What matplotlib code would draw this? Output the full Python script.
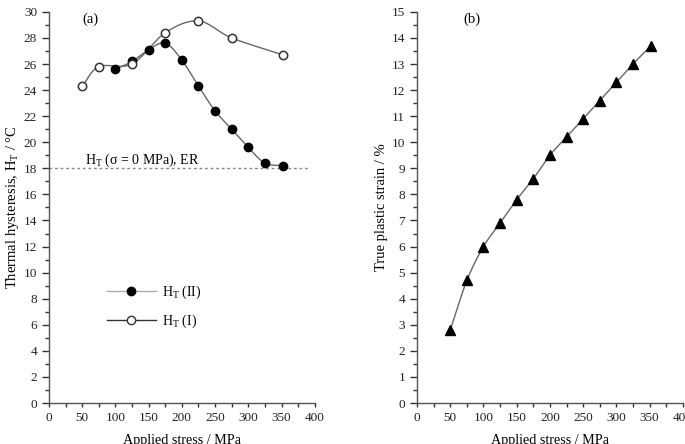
import numpy as np
import matplotlib
matplotlib.use('Agg')
import matplotlib.pyplot as plt

plt.rcParams['font.family'] = ['Liberation Serif', 'DejaVu Serif']
plt.rcParams['mathtext.fontset'] = 'custom'
plt.rcParams['mathtext.rm'] = 'Liberation Serif'
plt.rcParams['mathtext.it'] = 'Liberation Serif:italic'

# data
stress_I = [50, 75, 125, 175, 225, 275, 352]
ht_I = [24.3, 25.8, 26.0, 28.4, 29.3, 28.0, 26.7]

stress_II = [100, 125, 150, 175, 200, 225, 250, 275, 300, 325, 352]
ht_II = [25.6, 26.2, 27.1, 27.6, 26.3, 24.3, 22.4, 21.0, 19.6, 18.4, 18.2]

stress_b = [50, 75, 100, 125, 150, 175, 200, 225, 250, 275, 300, 325, 352]
strain_b = [2.8, 4.7, 6.0, 6.9, 7.8, 8.6, 9.5, 10.2, 10.9, 11.6, 12.3, 13.0, 13.7]

ht_zero = 18.0


# smooth line through the points (catmull-rom), just for the drawn curve
def smooth(x, y, n=30):
    x = np.asarray(x, float)
    y = np.asarray(y, float)
    px = np.concatenate([[2 * x[0] - x[1]], x, [2 * x[-1] - x[-2]]])
    py = np.concatenate([[2 * y[0] - y[1]], y, [2 * y[-1] - y[-2]]])
    xs, ys = [], []
    t = np.linspace(0, 1, n)
    for i in range(1, len(px) - 2):
        for p, out in ((px, xs), (py, ys)):
            p0, p1, p2, p3 = p[i - 1], p[i], p[i + 1], p[i + 2]
            out.append(0.5 * (2 * p1 + (-p0 + p2) * t
                              + (2 * p0 - 5 * p1 + 4 * p2 - p3) * t ** 2
                              + (-p0 + 3 * p1 - 3 * p2 + p3) * t ** 3))
    return np.concatenate(xs), np.concatenate(ys)


fig = plt.figure(figsize=(6.85, 4.44), dpi=100)
ax1 = fig.add_axes([0.0715, 0.0923, 0.388, 0.881])
ax2 = fig.add_axes([0.6088, 0.0923, 0.388, 0.881])


def style(ax):
    ax.spines['top'].set_visible(False)
    ax.spines['right'].set_visible(False)
    for s in ('left', 'bottom'):
        ax.spines[s].set_color('#555555')
        ax.spines[s].set_linewidth(1.0)
    ax.set_xlim(0, 400)
    ax.set_xticks(np.arange(0, 401, 50))
    ax.set_xticks(np.arange(0, 401, 25), minor=True)
    ax.tick_params(axis='both', which='both', direction='out', colors='#333333',
                   labelsize=9.5, labelcolor='#222222', width=1.0)
    ax.tick_params(axis='x', which='both', length=3)
    ax.tick_params(axis='y', which='major', length=5)
    ax.tick_params(axis='y', which='minor', length=3)
    ax.set_xlabel('Applied stress / MPa', fontsize=10.2, labelpad=7)


# (a)
style(ax1)
ax1.set_ylim(0, 30)
ax1.set_yticks(np.arange(0, 31, 2))
ax1.set_yticks(np.arange(0, 31, 1), minor=True)
ax1.set_ylabel(r'Thermal hysteresis, H$_\mathrm{T}$ / °C', fontsize=10.5, labelpad=2)

ax1.axhline(ht_zero, xmin=0, xmax=0.975, color='#888888', lw=1.0, ls=(0, (2, 2)))
ax1.text(54, 18.35, r'H$_\mathrm{T}$ (σ = 0 MPa), ER', fontsize=10)

sx, sy = smooth(stress_I, ht_I)
ax1.plot(sx, sy, color='#666666', lw=1.0)
sx, sy = smooth(stress_II, ht_II)
ax1.plot(sx, sy, color='#666666', lw=1.0)
ax1.plot(stress_II, ht_II, 'o', color='black', ms=6, mec='black')
ax1.plot(stress_I, ht_I, 'o', color='white', ms=6, mec='#333333', mew=1.1)

h2, = ax1.plot([], [], '-o', color='#aaaaaa', lw=1.0, mfc='black', mec='black', ms=6)
h1, = ax1.plot([], [], '-o', color='#333333', lw=1.0, mfc='white', mec='#333333', ms=6)
ax1.legend([h2, h1], [r'H$_\mathrm{T}$ (II)', r'H$_\mathrm{T}$ (I)'],
           loc='center left', bbox_to_anchor=(0.218, 0.245), frameon=False,
           fontsize=10, handlelength=3.5, handletextpad=0.5, labelspacing=0.85,
           borderpad=0, borderaxespad=0)
ax1.text(50, 29.4, '(a)', fontsize=10.5, va='center')

# (b)
style(ax2)
ax2.set_ylim(0, 15)
ax2.set_yticks(np.arange(0, 16, 1))
ax2.set_yticks(np.arange(0, 15.1, 0.5), minor=True)
ax2.set_ylabel('True plastic strain / %', fontsize=10.5, labelpad=3)

sx, sy = smooth(stress_b, strain_b)
ax2.plot(sx, sy, color='#666666', lw=1.0)
ax2.plot(stress_b, strain_b, '^', color='black', ms=7)
ax2.text(69, 14.7, '(b)', fontsize=10.5, va='center')

fig.savefig('out.png', dpi=100)
